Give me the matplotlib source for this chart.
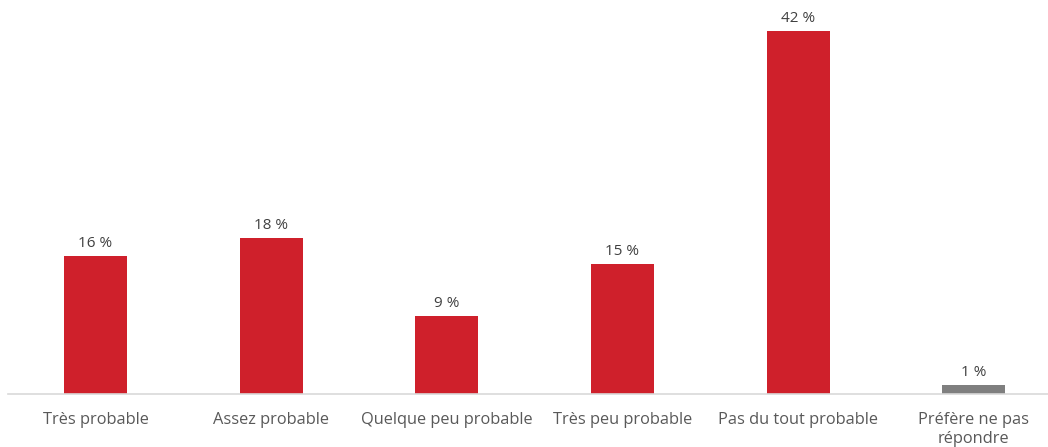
import matplotlib.pyplot as plt

categories = ["Très probable", "Assez probable", "Quelque peu probable",
              "Très peu probable", "Pas du tout probable", "Préfère ne pas\nrépondre"]
values = [16, 18, 9, 15, 42, 1]
colors = ["#cf202b"] * 5 + ["#7f7f7f"]

plt.rcParams['font.family'] = ['Open Sans', 'DejaVu Sans']

fig = plt.figure(figsize=(10.48, 4.47), dpi=100)
ax = fig.add_axes([0.0073, 0.1186, 1.0057, 0.870])

x = range(len(categories))
bars = ax.bar(x, values, width=0.36, color=colors)

for xi, v in zip(x, values):
    ax.text(xi, v + 0.6, f"{v} %", ha="center", va="bottom",
            fontsize=11, color="#404040")

ax.set_xlim(-0.5, 5.5)
ax.set_ylim(0, 45)
ax.set_xticks(list(x))
ax.set_xticklabels(categories, fontsize=11.8, color="#595959", linespacing=1.25)
ax.tick_params(axis="x", length=0, pad=13)
ax.set_yticks([])
for s in ["top", "left", "right"]:
    ax.spines[s].set_visible(False)
ax.spines["bottom"].set_color("#d9d9d9")
ax.spines["bottom"].set_linewidth(1.2)

fig.savefig("out.png", dpi=100)
